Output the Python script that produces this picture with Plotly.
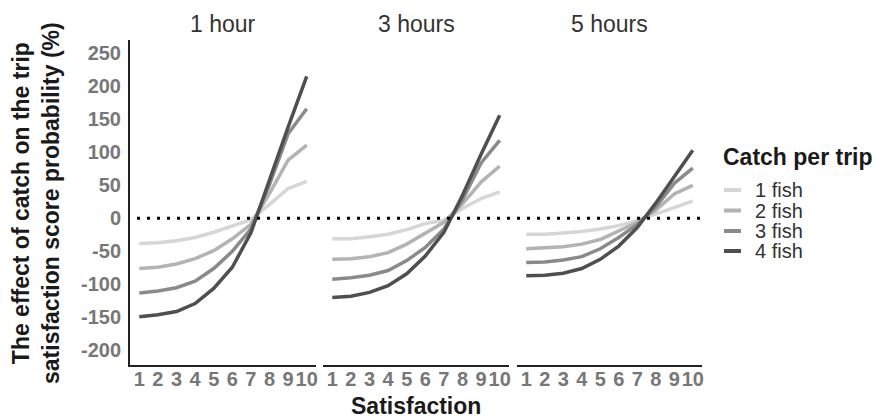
import plotly.graph_objects as go

# ---------------- data ----------------
satisfaction = [1, 2, 3, 4, 5, 6, 7, 8, 9, 10]
panel_titles = ["1 hour", "3 hours", "5 hours"]
catch_labels = ["1 fish", "2 fish", "3 fish", "4 fish"]
y_tickvals = [250, 200, 150, 100, 50, 0, -50, -100, -150, -200]

# 1 hour
h1_fish1 = [-38, -37, -34, -29, -21, -11, -2, 21, 45, 56]
h1_fish2 = [-76, -74, -69, -61, -49, -31, -9, 38, 88, 111]
h1_fish3 = [-113, -110, -105, -95, -76, -50, -16, 51, 128, 166]
h1_fish4 = [-149, -146, -141, -129, -106, -74, -22, 60, 138, 215]
# 3 hours
h3_fish1 = [-31, -31, -28, -24, -17, -8, -3, 15, 30, 40]
h3_fish2 = [-62, -61, -58, -52, -39, -22, -6, 22, 55, 79]
h3_fish3 = [-92, -90, -86, -79, -64, -44, -16, 28, 84, 118]
h3_fish4 = [-120, -118, -112, -102, -84, -57, -21, 35, 97, 156]
# 5 hours
h5_fish1 = [-24, -24, -22, -20, -16, -11, -3, 7, 17, 26]
h5_fish2 = [-46, -45, -43, -39, -32, -19, -6, 12, 37, 50]
h5_fish3 = [-67, -66, -63, -58, -46, -29, -9, 17, 53, 76]
h5_fish4 = [-87, -86, -83, -76, -62, -42, -14, 23, 63, 103]

panels = [
    [h1_fish1, h1_fish2, h1_fish3, h1_fish4],
    [h3_fish1, h3_fish2, h3_fish3, h3_fish4],
    [h5_fish1, h5_fish2, h5_fish3, h5_fish4],
]

# ---------------- styles ----------------
W, H = 877, 418
colors = ["#d6d6d6", "#b3b3b3", "#8a8a8a", "#4f4f4f"]
FONT = "Liberation Sans, Arial, sans-serif"
tick_gray = "#777777"


def px_x(v):
    return v / W


def px_y(v):
    return 1 - v / H


x_domains = [(130, 316), (323, 509), (517, 702)]
y_domain = [px_y(365), px_y(40)]
y_range = [-222, 270]

fig = go.Figure()

for p, series in enumerate(panels):
    xa = "x" if p == 0 else f"x{p+1}"
    ya = "y" if p == 0 else f"y{p+1}"
    for i, vals in enumerate(series):
        fig.add_trace(go.Scatter(
            x=satisfaction, y=vals, mode="lines",
            line=dict(color=colors[i], width=3.5),
            name=catch_labels[i], showlegend=False,
            xaxis=xa, yaxis=ya,
        ))

layout = dict(
    width=W, height=H,
    margin=dict(l=0, r=0, t=0, b=0),
    template="none",
    paper_bgcolor="white", plot_bgcolor="rgba(0,0,0,0)",
    showlegend=False,
)

for p in range(3):
    xkey = "xaxis" if p == 0 else f"xaxis{p+1}"
    ykey = "yaxis" if p == 0 else f"yaxis{p+1}"
    d0, d1 = x_domains[p]
    layout[xkey] = dict(
        domain=[px_x(d0), px_x(d1)], range=[0.5, 10.5],
        anchor="y" if p == 0 else f"y{p+1}",
        tickvals=satisfaction, ticktext=[str(s) for s in satisfaction],
        tickangle=0, ticks="", showgrid=False, zeroline=False,
        showline=True, linecolor="#222222", linewidth=2,
        tickfont=dict(family=FONT, size=20, color=tick_gray, weight="bold"),
        ticklabelstandoff=-5,
        automargin=False, fixedrange=True,
    )
    layout[ykey] = dict(
        domain=y_domain, range=y_range,
        anchor="x" if p == 0 else f"x{p+1}",
        tickvals=y_tickvals, ticktext=[str(v) for v in y_tickvals],
        ticks="", showgrid=False, zeroline=False,
        showline=(p == 0), linecolor="#222222", linewidth=2,
        showticklabels=(p == 0),
        tickfont=dict(family=FONT, size=20, color=tick_gray, weight="bold"),
        ticklabelstandoff=3,
        automargin=False, fixedrange=True,
    )

fig.update_layout(**layout)

# zero reference line (dotted)
fig.add_shape(type="line", xref="paper", yref="y",
              x0=px_x(137), x1=px_x(704), y0=0, y1=0,
              line=dict(color="black", width=3, dash="3px,7px"))

annotations = []
# panel titles
for p, t in enumerate(panel_titles):
    d0, d1 = x_domains[p]
    annotations.append(dict(
        text=t, x=px_x((d0 + d1) / 2), y=px_y(24), xref="paper", yref="paper",
        xanchor="center", yanchor="middle", showarrow=False,
        font=dict(family=FONT, size=23, color="#333333")))

# axis titles
annotations.append(dict(
    text="<b>Satisfaction</b>", x=px_x(416), y=px_y(406), xref="paper", yref="paper",
    xanchor="center", yanchor="middle", showarrow=False,
    font=dict(family=FONT, size=23, color="#1a1a1a")))
annotations.append(dict(
    text="<b>The effect of catch on the trip<br>satisfaction score probability (%)</b>",
    x=px_x(36), y=px_y(203), xref="paper", yref="paper",
    xanchor="center", yanchor="middle", textangle=-90, showarrow=False,
    font=dict(family=FONT, size=23, color="#1a1a1a")))

# legend (drawn manually to match compact spacing)
annotations.append(dict(
    text="<b>Catch per trip</b>", x=px_x(721), y=px_y(157), xref="paper", yref="paper",
    xanchor="left", yanchor="middle", showarrow=False,
    font=dict(family=FONT, size=23, color="#1a1a1a")))
leg_y = [190, 210.5, 231, 251]
for i, lab in enumerate(catch_labels):
    fig.add_shape(type="line", xref="paper", yref="paper",
                  x0=px_x(724), x1=px_x(741), y0=px_y(leg_y[i]), y1=px_y(leg_y[i]),
                  line=dict(color=colors[i], width=4))
    annotations.append(dict(
        text=lab, x=px_x(753), y=px_y(leg_y[i]), xref="paper", yref="paper",
        xanchor="left", yanchor="middle", showarrow=False,
        font=dict(family=FONT, size=20, color="#333333")))

fig.update_layout(annotations=annotations)

fig.write_html("out.html")
